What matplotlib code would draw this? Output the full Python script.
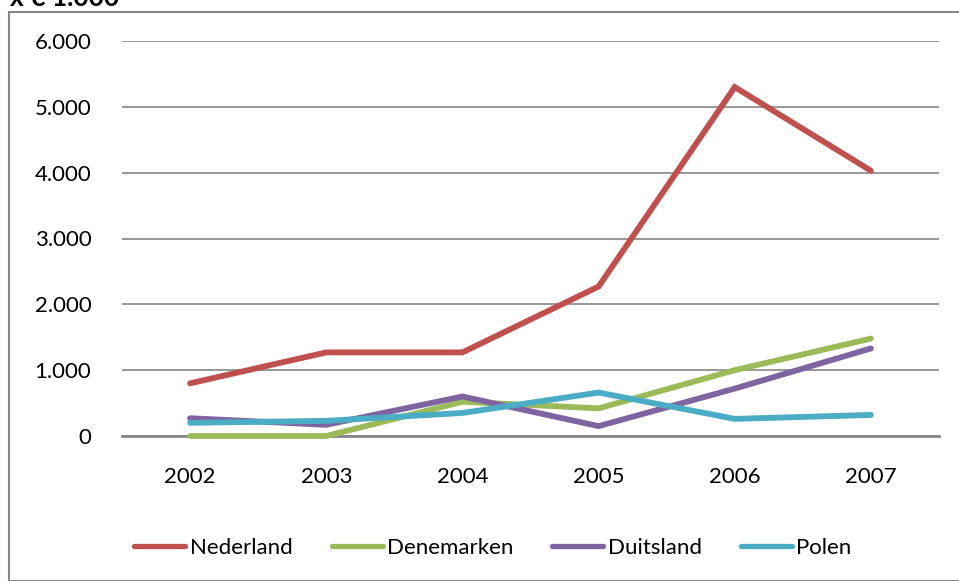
import matplotlib
matplotlib.use("Agg")
import matplotlib.pyplot as plt
from matplotlib.patches import Rectangle

years = ["2002", "2003", "2004", "2005", "2006", "2007"]
nederland = [800, 1270, 1270, 2270, 5300, 4030]
denemarken = [0, 0, 520, 420, 1000, 1480]
duitsland = [270, 170, 600, 150, 720, 1330]
polen = [200, 230, 350, 660, 260, 320]
yticks = [0, 1000, 2000, 3000, 4000, 5000, 6000]
ytick_labels = ["0", "1.000", "2.000", "3.000", "4.000", "5.000", "6.000"]
series_names = ["Nederland", "Denemarken", "Duitsland", "Polen"]
colors = ["#C0504D", "#9BBB59", "#8064A2", "#4BACC6"]

plt.rcParams['font.family'] = ['Lato', 'DejaVu Sans']

W, H = 959, 581
fig = plt.figure(figsize=(W / 100, H / 100), dpi=100)

# outer chart frame
fig.patches.append(Rectangle((9 / W, 0), 1.0, 1 - 12 / H, transform=fig.transFigure,
                             fill=False, edgecolor="#868686", linewidth=1.5, zorder=0))

fig.text(10 / W, 1 - 6 / H, "x € 1.000", fontsize=19, fontweight="bold",
         ha="left", va="baseline")

ax = fig.add_axes([122 / W, 1 - 436 / H, (939 - 122) / W, (436 - 41) / H])
x = list(range(len(years)))
for name, vals, c in zip(series_names, [nederland, denemarken, duitsland, polen], colors):
    ax.plot(x, vals, color=c, linewidth=4.2, solid_capstyle="round",
            solid_joinstyle="miter", label=name, clip_on=False, zorder=3)

ax.set_xlim(-0.5, len(years) - 0.5)
ax.set_ylim(0, 6000)
ax.set_yticks(yticks)
ax.set_yticklabels(ytick_labels)
ax.set_xticks(x)
ax.set_xticklabels(years)
ax.yaxis.grid(True, color="#868686", linewidth=1.2)
ax.set_axisbelow(True)
for s in ["left", "right", "top"]:
    ax.spines[s].set_visible(False)
ax.spines["bottom"].set_color("#868686")
ax.spines["bottom"].set_linewidth(2)
ax.tick_params(axis="both", length=0, labelsize=16, colors="black")
ax.tick_params(axis="y", pad=22)
ax.tick_params(axis="x", pad=22)

leg = fig.legend(loc="center", bbox_to_anchor=(493 / W, 1 - 548 / H), ncol=4,
                 frameon=False, fontsize=16, handlelength=2.3, handletextpad=0.2,
                 columnspacing=1.75)
for line in leg.get_lines():
    line.set_linewidth(3.8)

fig.savefig("out.png", dpi=100)
